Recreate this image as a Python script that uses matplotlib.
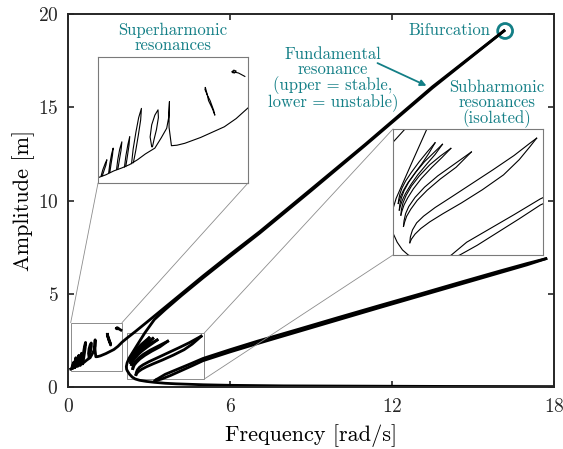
import numpy as np
import matplotlib
matplotlib.use('Agg')
import matplotlib.pyplot as plt
from matplotlib.patches import Rectangle, ConnectionPatch, Ellipse

plt.rcParams['font.family'] = 'serif'
plt.rcParams['font.serif'] = ['cmr10']
plt.rcParams['mathtext.fontset'] = 'cm'
plt.rcParams['axes.formatter.use_mathtext'] = True

teal = '#137f86'
grey = '#8c8c8c'

# fundamental resonance, stable upper branch (with superharmonic peak near 1 rad/s)
fund_up_x = [0.10, 0.20, 0.30, 0.40, 0.50, 0.60, 0.70, 0.82, 0.90, 0.97, 0.995, 1.005, 1.00, 1.00, 1.03, 1.10,
             1.20, 1.40, 1.70, 1.85, 2.00, 2.20, 2.50, 3.00, 3.80, 5.00, 6.00, 7.10, 9.00, 11.0, 13.5, 16.15]
fund_up_y = [0.96, 1.02, 1.10, 1.16, 1.23, 1.33, 1.45, 1.57, 1.78, 1.98, 2.20, 2.53, 2.20, 2.00, 1.62, 1.63,
             1.67, 1.79, 2.01, 2.18, 2.40, 2.64, 2.98, 3.57, 4.52, 5.95, 7.10, 8.33, 10.6, 13.0, 16.1, 19.10]

# fundamental resonance, unstable branch then lower stable branch
fund_lo_x = [16.15, 13.5, 11.0, 9.00, 7.10, 6.00, 5.00, 4.20, 3.60, 3.20, 2.84, 2.55, 2.26, 2.19, 2.16, 2.17, 2.20,
             2.28, 2.38, 2.49, 2.65, 2.90, 3.20, 3.60, 4.00, 5.00, 6.00, 8.00, 10.0, 14.0, 18.0]
fund_lo_y = [19.10, 16.04, 12.95, 10.52, 8.25, 7.00, 5.85, 4.90, 4.15, 3.62, 2.89, 2.22, 1.54, 1.30, 1.10, 0.95, 0.86,
             0.68, 0.53, 0.43, 0.36, 0.30, 0.25, 0.20, 0.17, 0.12, 0.09, 0.06, 0.05, 0.03, 0.02]

# superharmonic lobes (narrow closed loops)
super_lobes = [
    ([0.140, 0.160, 0.190, 0.212, 0.200, 0.175, 0.155], [1.00, 1.12, 1.25, 1.33, 1.22, 1.10, 1.00]),
    ([0.235, 0.250, 0.272, 0.292, 0.283, 0.265, 0.250], [1.06, 1.25, 1.45, 1.57, 1.42, 1.24, 1.07]),
    ([0.335, 0.350, 0.375, 0.402, 0.392, 0.370, 0.352], [1.13, 1.33, 1.55, 1.70, 1.53, 1.32, 1.14]),
    ([0.435, 0.452, 0.478, 0.502, 0.492, 0.470, 0.452], [1.18, 1.40, 1.64, 1.81, 1.62, 1.38, 1.19]),
    ([0.525, 0.545, 0.580, 0.615, 0.650, 0.640, 0.612, 0.578, 0.548], [1.25, 1.55, 1.90, 2.20, 2.39, 2.15, 1.85, 1.52, 1.27]),
    ([0.780, 0.760, 0.780, 0.820, 0.860, 0.865, 0.840, 0.810, 0.790], [1.60, 1.80, 2.05, 2.25, 2.36, 2.20, 1.95, 1.75, 1.60]),
    ([1.460, 1.480, 1.500, 1.550, 1.580, 1.565, 1.520, 1.480, 1.455, 1.460], [2.82, 2.70, 2.55, 2.38, 2.25, 2.35, 2.55, 2.68, 2.78, 2.82]),
    ([1.800, 1.820, 1.850, 1.830, 1.800, 1.800, 1.880, 1.960], [3.15, 3.18, 3.16, 3.12, 3.13, 3.15, 3.12, 3.05]),
]

# subharmonic isolas: upper and lower branches, meeting at both tips
iso_up_x = [
    [2.30, 2.31, 2.33, 2.37, 2.44, 2.55, 2.70, 2.85, 3.00],
    [2.32, 2.33, 2.36, 2.41, 2.50, 2.63, 2.80, 2.97, 3.14],
    [2.35, 2.36, 2.39, 2.45, 2.55, 2.70, 2.90, 3.10, 3.30],
    [2.40, 2.41, 2.44, 2.50, 2.62, 2.80, 3.05, 3.35, 3.69],
    [2.52, 2.53, 2.57, 2.65, 2.78, 3.00, 3.30, 3.70, 4.10, 4.50, 4.80, 4.93],
    [3.22, 3.26, 3.31, 3.60, 4.00, 4.50, 5.00, 6.00, 7.00, 8.50, 10.0, 11.5, 13.0, 14.5, 16.0, 17.0, 17.7],
]
iso_up_y = [
    [1.44, 1.52, 1.62, 1.74, 1.88, 2.05, 2.26, 2.45, 2.63],
    [1.31, 1.42, 1.55, 1.69, 1.86, 2.05, 2.26, 2.43, 2.60],
    [1.21, 1.32, 1.45, 1.60, 1.78, 1.98, 2.20, 2.37, 2.52],
    [0.99, 1.10, 1.24, 1.38, 1.56, 1.76, 1.98, 2.20, 2.45],
    [0.67, 0.78, 0.92, 1.06, 1.19, 1.36, 1.56, 1.83, 2.10, 2.38, 2.62, 2.72],
    [0.33, 0.40, 0.43, 0.68, 0.92, 1.22, 1.53, 2.00, 2.45, 3.08, 3.72, 4.35, 4.97, 5.60, 6.22, 6.62, 6.88],
]
iso_lo_x = [
    [2.30, 2.32, 2.35, 2.40, 2.48, 2.60, 2.75, 2.88, 3.00],
    [2.32, 2.34, 2.38, 2.44, 2.54, 2.67, 2.84, 3.00, 3.14],
    [2.35, 2.37, 2.41, 2.48, 2.59, 2.74, 2.94, 3.13, 3.30],
    [2.40, 2.42, 2.46, 2.54, 2.66, 2.85, 3.10, 3.40, 3.69],
    [2.52, 2.55, 2.62, 2.73, 2.90, 3.15, 3.50, 3.90, 4.30, 4.60, 4.80, 4.93],
    [3.22, 3.30, 3.47, 3.80, 4.20, 4.60, 5.00, 6.00, 7.00, 8.50, 10.0, 11.5, 13.0, 14.5, 16.0, 17.0, 17.7],
]
iso_lo_y = [
    [1.44, 1.50, 1.59, 1.70, 1.84, 2.01, 2.22, 2.42, 2.63],
    [1.31, 1.39, 1.51, 1.64, 1.81, 2.00, 2.21, 2.40, 2.60],
    [1.21, 1.29, 1.41, 1.55, 1.73, 1.93, 2.15, 2.34, 2.52],
    [0.99, 1.07, 1.19, 1.33, 1.50, 1.70, 1.92, 2.15, 2.45],
    [0.67, 0.74, 0.84, 0.95, 1.08, 1.24, 1.45, 1.71, 2.00, 2.30, 2.55, 2.72],
    [0.33, 0.36, 0.43, 0.62, 0.88, 1.14, 1.41, 1.88, 2.32, 2.96, 3.60, 4.24, 4.87, 5.50, 6.13, 6.55, 6.88],
]

box_super = (0.10, 0.85, 1.90, 2.60)   # x0, y0, w, h
box_sub = (2.20, 0.43, 2.85, 2.47)


def draw_all(a, lw):
    a.plot(fund_up_x, fund_up_y, color='k', lw=lw, solid_joinstyle='round')
    a.plot(fund_lo_x, fund_lo_y, color='k', lw=lw, solid_joinstyle='round')
    for lx, ly in super_lobes:
        a.plot(lx, ly, color='k', lw=lw, solid_joinstyle='round')
    for ux, uy, dx, dy in zip(iso_up_x, iso_up_y, iso_lo_x, iso_lo_y):
        a.plot(ux, uy, color='k', lw=lw, solid_joinstyle='round')
        a.plot(dx, dy, color='k', lw=lw, solid_joinstyle='round')


fig = plt.figure(figsize=(5.63, 4.49), dpi=100)
ax = fig.add_axes([0.1208, 0.1381, 0.8632, 0.8307])
draw_all(ax, 2.0)
ax.set_xlim(0, 18)
ax.set_ylim(0, 20)
ax.set_xticks([0, 6, 12, 18])
ax.set_yticks([0, 5, 10, 15, 20])
ax.tick_params(direction='in', top=True, right=True, length=4, width=1.2, labelsize=14, colors='#262626')
ax.tick_params(axis='x', pad=8)
ax.tick_params(axis='y', pad=7)
for s in ax.spines.values():
    s.set_linewidth(1.4)
    s.set_color('#262626')
ax.set_xlabel('Frequency [rad/s]', fontsize=16, labelpad=6)
ax.set_ylabel('Amplitude [m]', fontsize=16, labelpad=2)

for b in (box_super, box_sub):
    ax.add_patch(Rectangle((b[0], b[1]), b[2], b[3], fill=False, ec=grey, lw=0.7))

ins1 = fig.add_axes([0.1741, 0.5924, 0.2664, 0.2806])
ins2 = fig.add_axes([0.6980, 0.4321, 0.2664, 0.2806])
for ia, b in ((ins1, box_super), (ins2, box_sub)):
    draw_all(ia, 0.8)
    ia.set_xlim(b[0], b[0] + b[2])
    ia.set_ylim(b[1], b[1] + b[3])
    ia.set_xticks([])
    ia.set_yticks([])
    for s in ia.spines.values():
        s.set_color('#7a7a7a')
        s.set_linewidth(0.8)

# connector lines
links = [
    (ins1, (box_super[0], box_super[1] + box_super[3]), (0, 0)),
    (ins1, (box_super[0] + box_super[2], box_super[1] + box_super[3]), (1, 0)),
    (ins2, (box_sub[0] + box_sub[2], box_sub[1] + box_sub[3]), (0, 1)),
    (ins2, (box_sub[0] + box_sub[2], box_sub[1]), (0, 0)),
]
for ia, pa, pb in links:
    cp = ConnectionPatch(xyA=pa, coordsA='data', axesA=ax, xyB=pb, coordsB='axes fraction', axesB=ia,
                         color=grey, lw=0.6)
    fig.add_artist(cp)

ax.text(3.89, 18.71, 'Superharmonic\nresonances', color=teal, fontsize=12, ha='center', va='center', linespacing=0.95)
ax.text(9.81, 16.5, 'Fundamental\nresonance\n(upper = stable,\nlower = unstable)', color=teal, fontsize=12,
        ha='center', va='center', linespacing=0.95)
ax.text(15.89, 15.17, 'Subharmonic\nresonances\n(isolated)', color=teal, fontsize=12, ha='center', va='center', linespacing=0.95)
ax.text(15.63, 19.14, 'Bifurcation', color=teal, fontsize=12, ha='right', va='center')
ax.add_patch(Ellipse((16.19, 19.09), 0.55, 0.8, fill=False, ec=teal, lw=2))
ax.annotate('', xy=(13.37, 16.09), xytext=(11.37, 17.43),
            arrowprops=dict(arrowstyle='-|>', color=teal, lw=1.3, mutation_scale=9))

fig.savefig('out.png', dpi=100)
